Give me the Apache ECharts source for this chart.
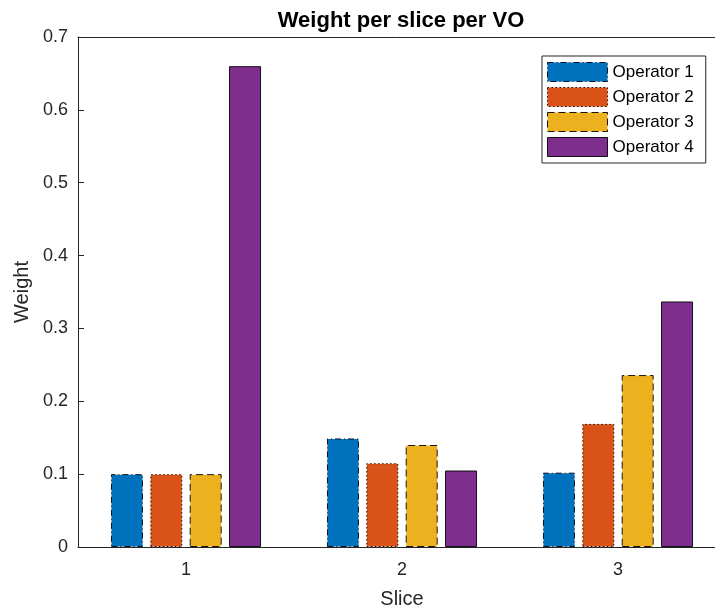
<!DOCTYPE html>
<html>
<head>
<meta charset="utf-8">
<script src="https://cdn.jsdelivr.net/npm/echarts@6/dist/echarts.min.js"></script>
<style>
html,body{margin:0;padding:0;background:#fff;}
#chart{width:715px;height:610px;}
</style>
</head>
<body>
<div id="chart"></div>
<script>
var categories = ['1', '2', '3'];
var seriesNames = ['Operator 1', 'Operator 2', 'Operator 3', 'Operator 4'];
var op1 = [0.100, 0.149, 0.102];
var op2 = [0.100, 0.115, 0.169];
var op3 = [0.100, 0.140, 0.236];
var op4 = [0.660, 0.105, 0.337];
var yTicks = [0, 0.1, 0.2, 0.3, 0.4, 0.5, 0.6, 0.7];

var colors = ['#0072BD', '#D95319', '#EDB120', '#7E2F8E'];
var borderTypes = [[6, 3, 1, 3], [1.5, 2.5], [7, 4], 'solid'];
var values = [op1, op2, op3, op4];
var font = 'Liberation Sans, Arial, Helvetica, sans-serif';

var chart = echarts.init(document.getElementById('chart'), null, {renderer: 'canvas'});

var series = seriesNames.map(function (name, i) {
  return {
    name: name,
    type: 'bar',
    data: values[i],
    barWidth: 32,
    barGap: '23%',
    xAxisIndex: 0,
    itemStyle: {
      color: colors[i],
      borderColor: 'rgba(0,0,0,0.9)',
      borderWidth: 1,
      borderType: borderTypes[i]
    },
    emphasis: {disabled: true}
  };
});

var legendData = seriesNames.map(function (name, i) {
  return {
    name: name,
    icon: 'rect',
    itemStyle: {
      color: colors[i],
      borderColor: 'rgba(0,0,0,0.9)',
      borderWidth: 1,
      borderType: borderTypes[i]
    }
  };
});

chart.setOption({
  animation: false,
  backgroundColor: '#fff',
  title: {
    text: 'Weight per slice per VO',
    left: 396,
    textAlign: 'center',
    top: 5,
    textStyle: {fontFamily: font, fontSize: 22, fontWeight: 'bold', color: '#000'}
  },
  legend: {
    data: legendData,
    orient: 'vertical',
    left: 542,
    top: 56,
    itemWidth: 60,
    itemHeight: 19,
    itemGap: 5,
    padding: [6, 12, 6, 5],
    borderColor: '#262626',
    borderWidth: 1,
    backgroundColor: '#fff',
    textStyle: {fontFamily: font, fontSize: 17, color: '#000'}
  },
  grid: {left: 78, right: -11, top: 37, bottom: 63, containLabel: false, outerBoundsMode: 'none'},
  xAxis: [{
    type: 'category',
    data: categories,
    position: 'bottom',
    name: 'Slice',
    nameLocation: 'middle',
    nameGap: 42,
    nameTextStyle: {fontFamily: font, fontSize: 20, color: '#262626'},
    axisLine: {lineStyle: {color: '#262626', width: 1}},
    axisTick: {inside: true, alignWithLabel: true, length: 6, lineStyle: {color: '#262626'}},
    axisLabel: {fontFamily: font, fontSize: 18, color: '#262626', margin: 14},
    splitLine: {show: false}
  }, {
    type: 'category',
    data: categories,
    position: 'top',
    axisLine: {lineStyle: {color: '#262626', width: 1}},
    axisTick: {inside: true, alignWithLabel: true, length: 6, lineStyle: {color: '#262626'}},
    axisLabel: {show: false},
    splitLine: {show: false}
  }],
  yAxis: {
    type: 'value',
    min: 0,
    max: 0.7,
    interval: 0.1,
    name: 'Weight',
    nameLocation: 'middle',
    nameGap: 44,
    nameTextStyle: {fontFamily: font, fontSize: 20, color: '#262626'},
    axisLine: {show: true, lineStyle: {color: '#262626', width: 1}},
    axisTick: {show: true, inside: true, length: 6, lineStyle: {color: '#262626'}},
    axisLabel: {
      fontFamily: font, fontSize: 18, color: '#262626', margin: 10,
      formatter: function (v) {
        var t = yTicks.filter(function (x) { return Math.abs(x - v) < 1e-9; });
        return t.length ? (v === 0 ? '0' : v.toFixed(1)) : '';
      }
    },
    splitLine: {show: false}
  },
  series: series
});
</script>
</body>
</html>
